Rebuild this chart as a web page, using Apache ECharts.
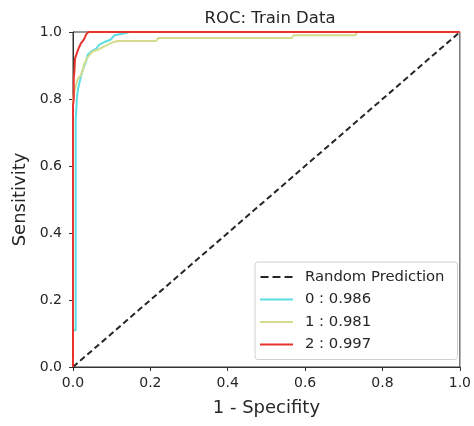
<!DOCTYPE html>
<html>
<head>
<meta charset="utf-8">
<script src="https://cdn.jsdelivr.net/npm/echarts@6/dist/echarts.min.js"></script>
<style>
  html, body { margin: 0; padding: 0; background: #fff; }
  #chart { width: 474px; height: 426px; }
</style>
</head>
<body>
<div id="chart"></div>
<script>
// ROC curves per class: [false positive rate, true positive rate]
const randomLine = [[0, 0], [1, 1]];
const class0Roc = [[0,0],[0,0.11],[0.007,0.11],[0.007,0.74],[0.009,0.78],[0.01,0.8],[0.013,0.83],[0.017,0.85],[0.02,0.865],[0.023,0.878],[0.028,0.897],[0.034,0.913],[0.038,0.932],[0.047,0.942],[0.06,0.95],[0.068,0.962],[0.081,0.97],[0.097,0.977],[0.107,0.99],[0.124,0.994],[0.137,0.997],[0.145,1.0],[1,1]];
const class1Roc = [[0,0],[0,0.8],[0.005,0.83],[0.012,0.86],[0.02,0.87],[0.026,0.887],[0.028,0.902],[0.034,0.917],[0.043,0.932],[0.051,0.942],[0.064,0.947],[0.081,0.957],[0.098,0.967],[0.115,0.973],[0.215,0.973],[0.22,0.982],[0.565,0.982],[0.57,0.99],[0.73,0.99],[0.735,1],[1,1]];
const class2Roc = [[0,0],[0,0.78],[0.002,0.8],[0.002,0.86],[0.004,0.89],[0.005,0.92],[0.008,0.93],[0.011,0.94],[0.014,0.95],[0.017,0.955],[0.02,0.965],[0.024,0.97],[0.028,0.977],[0.031,0.985],[0.034,0.993],[0.037,0.997],[0.04,1.0],[1,1]];
const seriesNames = ['Random Prediction', '0 : 0.986', '1 : 0.981', '2 : 0.997'];
const seriesColors = ['#262626', '#5cdde3', '#d6dc8e', '#e8332f'];
const axisTicks = [0, 0.2, 0.4, 0.6, 0.8, 1.0];

const font = 'DejaVu Sans';
const textColor = '#262626';
const dashIcon = 'path://M0,0h8v2h-8z M12,0h8v2h-8z M24,0h8v2h-8z';

const chart = echarts.init(document.getElementById('chart'), null, { renderer: 'canvas' });

const tickLabel = (margin) => ({
  fontFamily: font, fontSize: 14, color: textColor, margin: margin,
  formatter: v => v.toFixed(1)
});

const valueAxis = (name, extra) => Object.assign({
  type: 'value',
  min: axisTicks[0],
  max: axisTicks[axisTicks.length - 1],
  interval: 0.2,
  name: name,
  nameLocation: 'middle',
  nameTextStyle: { fontFamily: font, fontSize: 18, color: textColor },
  axisLine: { show: true, lineStyle: { color: '#333', width: 1 } },
  axisTick: { show: true, inside: false, length: 4, lineStyle: { color: '#333' } },
  splitLine: { show: false }
}, extra);

const lineSeries = (idx, data, extra) => Object.assign({
  name: seriesNames[idx],
  type: 'line',
  data: data,
  symbol: 'none',
  animation: false,
  color: seriesColors[idx],
  lineStyle: { color: seriesColors[idx], width: 2 },
  z: 2 + idx
}, extra);

chart.setOption({
  backgroundColor: '#fff',
  animation: false,
  title: {
    text: 'ROC: Train Data',
    left: 265, top: 5,
    textAlign: 'center',
    textStyle: { fontFamily: font, fontSize: 16.5, fontWeight: 'normal', color: textColor }
  },
  grid: {
    left: 73, right: 11, top: 32, bottom: 59,
    show: true, borderColor: '#333', borderWidth: 1, backgroundColor: 'transparent'
  },
  xAxis: valueAxis('1 - Specifity', { nameGap: 32, axisLabel: tickLabel(9) }),
  yAxis: valueAxis('Sensitivity', { nameGap: 43, axisLabel: tickLabel(11) }),
  legend: {
    orient: 'vertical',
    left: 255, top: 262,
    padding: [7, 13, 7, 5],
    itemGap: 6.5,
    itemWidth: 33,
    itemHeight: 2,
    backgroundColor: 'rgba(255,255,255,0.85)',
    borderColor: '#d0d0d0',
    borderWidth: 1,
    borderRadius: 3,
    textStyle: { fontFamily: font, fontSize: 14.8, color: textColor, padding: [0, 0, 0, 7], lineHeight: 16 },
    data: [
      { name: seriesNames[0], icon: dashIcon, itemStyle: { color: seriesColors[0] } },
      { name: seriesNames[1], icon: 'rect' },
      { name: seriesNames[2], icon: 'rect' },
      { name: seriesNames[3], icon: 'rect' }
    ]
  },
  series: [
    lineSeries(0, randomLine, { lineStyle: { color: seriesColors[0], width: 2, type: [6, 3.5] } }),
    lineSeries(1, class0Roc),
    lineSeries(2, class1Roc),
    lineSeries(3, class2Roc)
  ]
});
</script>
</body>
</html>
